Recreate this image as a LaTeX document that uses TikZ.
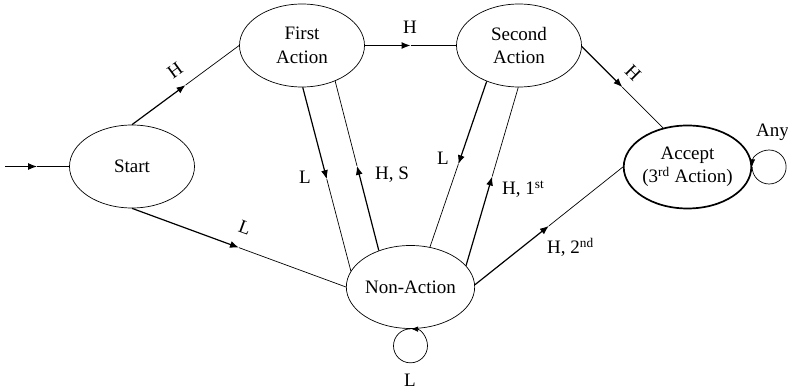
\documentclass[tikz,border=0pt]{standalone}
\usepackage{fontspec}
\setmainfont{Liberation Serif}
\usetikzlibrary{shapes.geometric,arrows.meta,calc}

\tikzset{
  state/.style={ellipse, draw, line width=0.7pt, minimum width=125pt,
    minimum height=83pt, inner sep=0pt, align=center,
    font=\fontsize{19}{23.5}\selectfont},
  accepting/.style={state, line width=1.7pt},
  lbl/.style={font=\fontsize{19}{22}\selectfont, inner sep=0pt},
  tip/.style={-{Latex[length=9pt,width=7pt]}},
  leadpart/.style={line width=1.2pt, tip},
  tailpart/.style={line width=0.7pt},
  selfloop/.style={line width=0.7pt, -{Latex[length=7pt,width=5.5pt]}},
}

% transition: heavier stroke up to the arrow head at mid-length, thin after it
\newcommand\fsmedge[2]{%
  \path (#1) -- (#2) coordinate[pos=0.5] (edgemid);
  \draw[leadpart] (#1) -- (edgemid);
  \draw[tailpart] (edgemid) -- (#2);
}

\begin{document}
\begin{tikzpicture}[x=1pt,y=1pt]
  \useasboundingbox (0,0) rectangle (788,391);

  % states
  \node[state] (start)  at (132,224.5)   {Start};
  \node[state] (first)  at (302,345.5)   {First\\Action};
  \node[state] (second) at (519,345.5)   {Second\\Action};
  \node[accepting] (accept) at (687.5,224) {Accept\\(3\textsuperscript{rd} Action)};
  \node[state] (na)     at (410.5,104)   {Non-Action};

  \coordinate (entry) at (5,224.5);

  % transitions
  \fsmedge{entry}{start.180}
  \fsmedge{start.90}{first.180}
  \fsmedge{first.0}{second.180}
  \fsmedge{second.-1.4}{accept.122.5}
  \fsmedge{start.-90}{na.180}
  \fsmedge{first.-89}{na.165.6}
  \fsmedge{na.131}{first.-47}
  \fsmedge{second.-132}{na.64}
  \fsmedge{na.21}{second.-91}
  \fsmedge{na.2}{accept.180}

  % self loops
  \draw[selfloop] (na.south) arc[start angle=90, end angle=448, radius=17pt];
  \draw[selfloop] (accept.east) arc[start angle=180, end angle=538, radius=17pt];

  % transition labels
  \node[lbl, rotate=36]  (lh1) at (175,321) {H};
  \node[lbl]             (lh2) at (410,364) {H};
  \node[lbl, rotate=-45] (lh3) at (633,318) {H};
  \node[lbl, rotate=-20] (ll1) at (245,163) {L};
  \node[lbl]             (ll2) at (305,214) {L};
  \node[lbl]             (lhs) at (392,216) {H, S};
  \node[lbl]             (ll3) at (443,233) {L};
  \node[lbl, anchor=base west] (lh1st) at (502,196) {H, 1\textsuperscript{st}};
  \node[lbl, anchor=base west] (lh2nd) at (547,137) {H, 2\textsuperscript{nd}};
  \node[lbl, anchor=base] (lloop) at (410,4.5) {L};
  \node[lbl, anchor=base west] (lany) at (756,254) {Any};
\end{tikzpicture}
\end{document}
